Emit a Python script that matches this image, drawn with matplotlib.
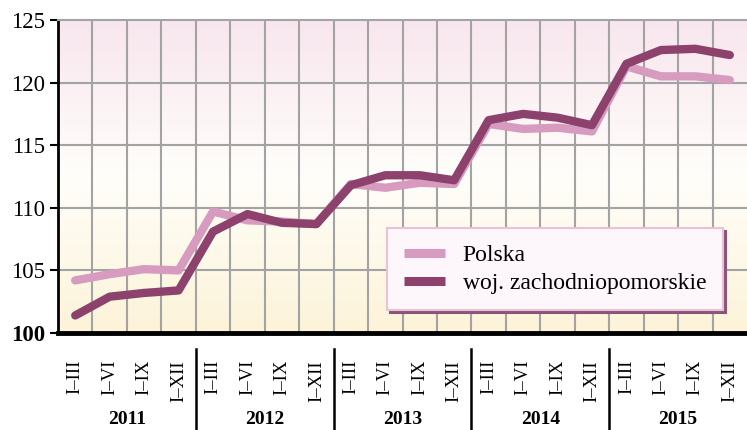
import numpy as np
import matplotlib
matplotlib.use("Agg")
import matplotlib.pyplot as plt
from matplotlib.colors import LinearSegmentedColormap

plt.rcParams['font.family'] = ['Liberation Serif', 'DejaVu Serif']

years = ['2011', '2012', '2013', '2014', '2015']
quarters = ['I–III', 'I–VI', 'I–IX', 'I–XII']
polska = [104.2, 104.7, 105.1, 105.0,
          109.7, 109.0, 108.9, 108.7,
          111.9, 111.6, 112.0, 111.9,
          116.7, 116.3, 116.4, 116.1,
          121.3, 120.5, 120.5, 120.2]
zachodniopomorskie = [101.4, 102.9, 103.2, 103.4,
                      108.1, 109.5, 108.8, 108.7,
                      111.8, 112.6, 112.6, 112.2,
                      117.0, 117.5, 117.2, 116.6,
                      121.5, 122.6, 122.7, 122.2]

c_pl = '#D69BBE'
c_zp = '#8C426D'

fig = plt.figure(figsize=(7.47, 4.30), dpi=100)
ax = fig.add_axes([58/747, 1-333/430, (747-58)/747, (333-20)/430])

n = len(polska)
x = np.arange(n)
ax.set_xlim(-0.5, n-0.5)
ax.set_ylim(100, 125)

# background gradient: pink at top, white in the middle, cream at bottom
cmap = LinearSegmentedColormap.from_list('bg', [(0, '#FCF3D8'), (0.5, '#FFFEFA'), (1, '#F8E6EE')])
grad = np.linspace(0, 1, 256).reshape(-1, 1)
ax.imshow(grad, aspect='auto', cmap=cmap, origin='lower',
          extent=[-0.5, n-0.5, 100, 125], zorder=0)

for xb in np.arange(0.5, n-0.5, 1):
    ax.axvline(xb, color='#A3A3A3', lw=1.5, zorder=1)
for yv in [105, 110, 115, 120]:
    ax.axhline(yv, color='#A3A3A3', lw=1.5, zorder=1)

ax.plot(x, polska, color=c_pl, lw=6, solid_capstyle='round', solid_joinstyle='round',
        zorder=3, label='Polska')
ax.plot(x, zachodniopomorskie, color=c_zp, lw=6, solid_capstyle='round', solid_joinstyle='round',
        zorder=4, label='woj. zachodniopomorskie')

ax.spines['top'].set_color('#A3A3A3')
ax.spines['top'].set_linewidth(1.5)
ax.spines['right'].set_visible(False)
ax.spines['left'].set_linewidth(2)
ax.spines['bottom'].set_linewidth(3.5)
ax.spines['bottom'].set_zorder(5)

ax.set_yticks([100, 105, 110, 115, 120, 125])
ax.tick_params(axis='y', direction='out', length=6, width=1.5, labelsize=16.5, pad=3)
for lab in ax.get_yticklabels():
    if lab.get_text() == '100':
        lab.set_fontweight('bold')
ax.set_xticks([])

# category labels below the axis
for i in range(n):
    ax.annotate(quarters[i % 4], xy=(i, 100), xycoords='data', xytext=(0, -27),
                textcoords='offset pixels', rotation=90, ha='center', va='top', fontsize=13.5,
                annotation_clip=False)
for k, yr in enumerate(years):
    ax.annotate(yr, xy=(4*k + 1.5, 100), xycoords='data', xytext=(0, -86),
                textcoords='offset pixels', ha='center', va='center', fontsize=14,
                fontweight='bold', annotation_clip=False)
    if k > 0:
        xs = 4*k - 0.5
        ax.plot([xs, xs], [98.7, 92.0], color='black', lw=1.8, clip_on=False)

leg = ax.legend(loc='lower right', bbox_to_anchor=(0.965, 0.073), borderaxespad=0,
                fontsize=17, frameon=True,
                handlelength=1.75, handleheight=0.6, borderpad=0.7, labelspacing=0.3,
                handletextpad=0.75, fancybox=False, shadow={'color': '#8A5577', 'alpha': 1})
leg.get_frame().set_edgecolor('#E8C3D8')
leg.get_frame().set_facecolor('#FDF6FA')
leg.get_frame().set_linewidth(1.5)
leg.set_zorder(6)
for h in leg.get_lines():
    h.set_linewidth(6.5)
    h.set_solid_capstyle('butt')

fig.savefig('out.png', dpi=100)
